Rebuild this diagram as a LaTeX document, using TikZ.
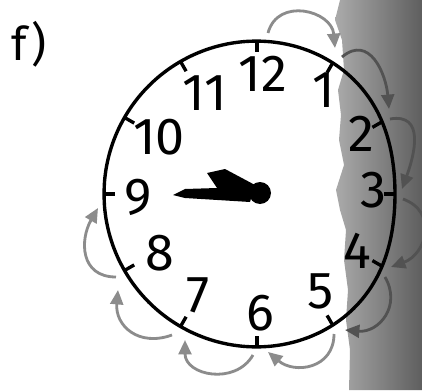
\documentclass[tikz,border=0pt]{standalone}
\usepackage{fontspec}
\setmainfont{Fira Sans}[Numbers=Proportional]
\usetikzlibrary{arrows.meta,calc}
\tikzset{
  face/.style={draw, line width=2.4pt},
  tickline/.style={line width=2.4pt},
  hournum/.style={font=\fontsize{37}{37}\selectfont, inner sep=0pt},
  hop/.style={draw=black!45, line width=2pt, looseness=1.3,
              -{Triangle[length=3.6mm,width=3.2mm]}},
  hopdark/.style={hop, draw=black!68},
  hand/.style={fill=black},
}
% rim of the face is a little flattened on the right (scan)
\newcommand{\rimradius}[1]{(153-15*exp(-((#1)/40)*((#1)/40)))}
\newcommand{\hourtick}[2]{%
  \pgfmathsetmacro{\rr}{\rimradius{#2}}
  \coordinate (#1) at ($(mid)+(#2:\rr)$);
  \draw[tickline] (#1) -- ($(#1)!0.28cm!(mid)$);
}

\begin{document}
\begin{tikzpicture}[x=0.025cm, y=0.025cm]
    \fill[white] (0,0) rectangle (422,390);
    \useasboundingbox (0,0) rectangle (422,390);
    % shadow of the page on the right
    \shade[left color=black!33, right color=black!63]
      (340,390) -- (335,370) -- (342,350) -- (344,320) -- (338,300) -- (341,275)
      -- (339,250) -- (344,225) -- (336,200) -- (340,180) -- (346,160) -- (344,130)
      -- (348,100) -- (346,70) -- (350,40) -- (349,0) -- (422,0) -- (422,390) -- cycle;

    \node[hournum, font=\fontsize{33}{33}\selectfont] (tag) at (29,346) {f)};

    % clock face
    \coordinate (mid) at (257,196);
    \draw[face] plot[domain=-180:180, samples=73, smooth]
      ({257+\rimradius{\x}*cos(\x)}, {196+\rimradius{\x}*sin(\x)});
    \hourtick{t12}{90}
    \hourtick{t1}{60}
    \hourtick{t2}{30}
    \hourtick{t3}{0}
    \hourtick{t4}{-30}
    \hourtick{t5}{-60}
    \hourtick{t6}{-90}
    \hourtick{t7}{-120}
    \hourtick{t8}{-150}
    \hourtick{t9}{180}
    \hourtick{t10}{150}
    \hourtick{t11}{120}

    \node[hournum] (n12) at (263,316) {12};
    \node[hournum] (n1) at (324,300) {1};
    \node[hournum] (n2) at (361,256) {2};
    \node[hournum] (n3) at (373,200) {3};
    \node[hournum] (n4) at (357,139) {4};
    \node[hournum] (n5) at (321,99) {5};
    \node[hournum] (n6) at (260,77) {6};
    \node[hournum] (n7) at (198,95) {7};
    \node[hournum] (n8) at (160,137) {8};
    \node[hournum] (n9) at (138,193) {9};
    \node[hournum] (n10) at (159,253) {10};
    \node[hournum] (n11) at (205,297) {11};

    % hands
    \fill[hand] (173,195) -- (185,201) -- (217,202) -- (207,217) -- (225,221)
                -- (255,205) -- (250,188) -- (185,192) -- cycle;
    \fill[hand] (260,197) circle (11);

    % hops from hour to hour
    \coordinate (s12) at (268,357); \coordinate (e1) at (335,342);
    \coordinate (s1) at (342,333);  \coordinate (e2) at (389,281);
    \coordinate (s2) at (390,271);  \coordinate (e3) at (402,201);
    \coordinate (s3) at (403,191);  \coordinate (e4) at (391,123);
    \coordinate (s4) at (385,113);  \coordinate (e5) at (345,60);
    \coordinate (s5) at (334,56);   \coordinate (e6) at (268,38);
    \coordinate (s6) at (253,35);   \coordinate (e7) at (185,50);
    \coordinate (s7) at (172,55);   \coordinate (e8) at (118,100);
    \coordinate (s8) at (116,113);  \coordinate (e9) at (98,182);
    \draw[hop, looseness=1.4] (s12) to[out=75, in=95] (e1);
    \draw[hopdark] (s1) to[out=40, in=95] (e2);
    \draw[hopdark] (s2) to[out=10, in=70] (e3);
    \draw[hopdark, looseness=1.4] (s3) to[out=-20, in=20] (e4);
    \draw[hopdark] (s4) to[out=-60, in=-5] (e5);
    \draw[hop] (s5) to[out=-90, in=-40] (e6);
    \draw[hop] (s6) to[out=-120, in=-90] (e7);
    \draw[hop] (s7) to[out=-160, in=-95] (e8);
    \draw[hop] (s8) to[out=180, in=-120] (e9);
  \end{tikzpicture}
\end{document}
